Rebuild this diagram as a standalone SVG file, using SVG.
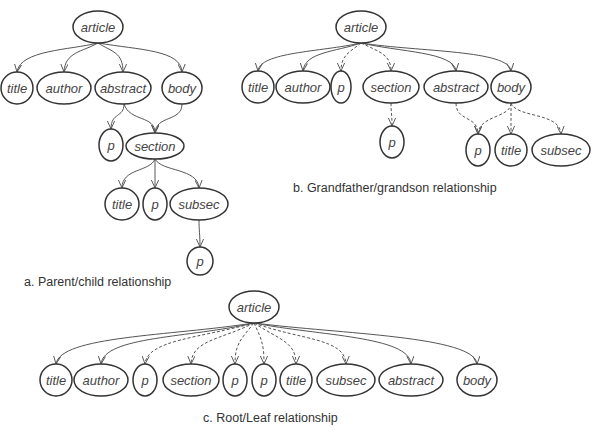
<svg xmlns="http://www.w3.org/2000/svg" width="594" height="436" viewBox="0 0 594 436">
<defs>
<style>
.n ellipse{fill:#fff;stroke:#333;stroke-width:1.5}
.n text{font-family:"Liberation Sans",Arial,sans-serif;font-style:italic;font-size:13px;fill:#444;text-anchor:middle}
.e path{fill:none;stroke:#555;stroke-width:1;marker-end:url(#ah)}
.e path.d{stroke-dasharray:3,2}
.lbl{font-family:"Liberation Sans",Arial,sans-serif;font-size:12.5px;fill:#333}
</style>
<marker id="ah" viewBox="0 0 10 10" refX="10" refY="5" markerWidth="8" markerHeight="8" markerUnits="userSpaceOnUse" orient="auto">
<path d="M0,0.5 L10,5 L0,9.5" fill="none" stroke="#555" stroke-width="1.2"/>
</marker>
</defs>
<rect width="594" height="436" fill="#fff"/>

<g id="edges" class="e">
<!-- a -->
<path d="M98,43 C70,50 20,50 17,72"/>
<path d="M98,43 C82,52 65,52 64,72"/>
<path d="M98,43 C112,52 123,52 123,72"/>
<path d="M98,43 C140,50 181,50 182,72"/>
<path d="M124,104 C124,118 111,112 111,129"/>
<path d="M124,104 C130,122 155,115 155,133"/>
<path d="M182,104 C182,122 156,115 155,133"/>
<path d="M155,159 C150,172 122,168 122,188"/>
<path d="M155,159 C155,170 155,172 155,188"/>
<path d="M155,159 C162,172 198,168 199,188"/>
<path d="M199,220 C199,230 200,235 200,247"/>
<!-- b -->
<path d="M361,43 C320,52 260,52 258,71"/>
<path d="M361,43 C335,52 305,52 303,71"/>
<path class="d" d="M361,43 C350,52 341,55 341,71"/>
<path class="d" d="M361,43 C380,52 391,55 391,71"/>
<path d="M361,43 C400,52 454,52 456,71"/>
<path d="M361,43 C420,52 509,50 511,71"/>
<path class="d" d="M391,103 C391,112 392,115 392,126"/>
<path class="d" d="M456,103 C456,122 478,115 478,134"/>
<path class="d" d="M511,103 C511,118 479,115 478,134"/>
<path class="d" d="M511,103 C511,114 511,120 511,134"/>
<path class="d" d="M511,103 C516,118 560,112 561,134"/>
<!-- c -->
<path d="M254,323 C170,336 60,336 56,364"/>
<path d="M254,323 C190,338 104,336 101,364"/>
<path class="d" d="M254,323 C200,338 147,340 145,364"/>
<path class="d" d="M254,323 C220,340 192,340 191,364"/>
<path class="d" d="M254,323 C240,340 235,345 235,364"/>
<path class="d" d="M254,323 C262,340 264,345 264,364"/>
<path class="d" d="M254,323 C280,340 296,342 296,364"/>
<path class="d" d="M254,323 C300,340 345,338 346,364"/>
<path d="M254,323 C320,336 409,336 411,364"/>
<path d="M254,323 C340,334 475,336 477,364"/>
</g>

<!-- diagram a -->
<g id="a_article" class="n"><ellipse cx="98" cy="27" rx="25" ry="16"/><text x="98" y="31.5">article</text></g>
<g id="a_title" class="n"><ellipse cx="17" cy="88" rx="16" ry="16"/><text x="17" y="92.5">title</text></g>
<g id="a_author" class="n"><ellipse cx="64" cy="88" rx="27" ry="16"/><text x="64" y="92.5">author</text></g>
<g id="a_abstract" class="n"><ellipse cx="123" cy="88" rx="28" ry="16"/><text x="123" y="92.5">abstract</text></g>
<g id="a_body" class="n"><ellipse cx="182" cy="88" rx="20" ry="16"/><text x="182" y="92.5">body</text></g>
<g id="a_p1" class="n"><ellipse cx="111" cy="145" rx="12" ry="16"/><text x="111" y="149.5">p</text></g>
<g id="a_section" class="n"><ellipse cx="155" cy="146" rx="29" ry="13"/><text x="155" y="150.5">section</text></g>
<g id="a_title2" class="n"><ellipse cx="122" cy="204" rx="17" ry="16"/><text x="122" y="208.5">title</text></g>
<g id="a_p2" class="n"><ellipse cx="155" cy="204" rx="12" ry="16"/><text x="155" y="208.5">p</text></g>
<g id="a_subsec" class="n"><ellipse cx="199" cy="204" rx="29" ry="16"/><text x="199" y="208.5">subsec</text></g>
<g id="a_p3" class="n"><ellipse cx="200" cy="261" rx="13" ry="14"/><text x="200" y="265.5">p</text></g>
<text class="lbl" x="24" y="286">a. Parent/child relationship</text>

<!-- diagram b -->
<g id="b_article" class="n"><ellipse cx="361" cy="27" rx="25" ry="16"/><text x="361" y="31.5">article</text></g>
<g id="b_title" class="n"><ellipse cx="258" cy="87" rx="16" ry="16"/><text x="258" y="91.5">title</text></g>
<g id="b_author" class="n"><ellipse cx="303" cy="87" rx="27" ry="16"/><text x="303" y="91.5">author</text></g>
<g id="b_p1" class="n"><ellipse cx="341" cy="87" rx="10" ry="16"/><text x="341" y="91.5">p</text></g>
<g id="b_section" class="n"><ellipse cx="391" cy="87" rx="28" ry="16"/><text x="391" y="91.5">section</text></g>
<g id="b_abstract" class="n"><ellipse cx="456" cy="87" rx="32" ry="16"/><text x="456" y="91.5">abstract</text></g>
<g id="b_body" class="n"><ellipse cx="511" cy="87" rx="20" ry="16"/><text x="511" y="91.5">body</text></g>
<g id="b_p2" class="n"><ellipse cx="392" cy="142" rx="12" ry="16"/><text x="392" y="146.5">p</text></g>
<g id="b_p3" class="n"><ellipse cx="478" cy="150" rx="12" ry="16"/><text x="478" y="154.5">p</text></g>
<g id="b_title2" class="n"><ellipse cx="511" cy="150" rx="16" ry="16"/><text x="511" y="154.5">title</text></g>
<g id="b_subsec" class="n"><ellipse cx="561" cy="150" rx="29" ry="16"/><text x="561" y="154.5">subsec</text></g>
<text class="lbl" x="293" y="192">b. Grandfather/grandson relationship</text>

<!-- diagram c -->
<g id="c_article" class="n"><ellipse cx="254" cy="307" rx="25" ry="16"/><text x="254" y="311.5">article</text></g>
<g id="c_title" class="n"><ellipse cx="56" cy="380" rx="16" ry="16"/><text x="56" y="384.5">title</text></g>
<g id="c_author" class="n"><ellipse cx="101" cy="380" rx="27" ry="16"/><text x="101" y="384.5">author</text></g>
<g id="c_p1" class="n"><ellipse cx="145" cy="380" rx="12" ry="16"/><text x="145" y="384.5">p</text></g>
<g id="c_section" class="n"><ellipse cx="191" cy="380" rx="28" ry="16"/><text x="191" y="384.5">section</text></g>
<g id="c_p2" class="n"><ellipse cx="235" cy="380" rx="12" ry="16"/><text x="235" y="384.5">p</text></g>
<g id="c_p3" class="n"><ellipse cx="264" cy="380" rx="12" ry="16"/><text x="264" y="384.5">p</text></g>
<g id="c_title2" class="n"><ellipse cx="296" cy="380" rx="16" ry="16"/><text x="296" y="384.5">title</text></g>
<g id="c_subsec" class="n"><ellipse cx="346" cy="380" rx="29" ry="16"/><text x="346" y="384.5">subsec</text></g>
<g id="c_abstract" class="n"><ellipse cx="411" cy="380" rx="32" ry="16"/><text x="411" y="384.5">abstract</text></g>
<g id="c_body" class="n"><ellipse cx="477" cy="380" rx="20" ry="16"/><text x="477" y="384.5">body</text></g>
<text class="lbl" x="203" y="422">c. Root/Leaf relationship</text>
</svg>
